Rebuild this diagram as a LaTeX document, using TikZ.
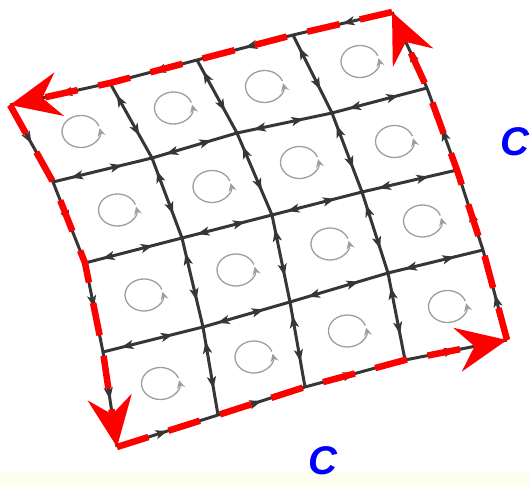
\documentclass[tikz,border=0pt]{standalone}
\usepackage{fontspec}
\setsansfont{Liberation Sans}
\usetikzlibrary{arrows.meta,calc,decorations.markings}
\definecolor{wire}{HTML}{363636}
\definecolor{swirl}{HTML}{9E9E9E}
\definecolor{rim}{HTML}{FF0000}
\definecolor{lab}{HTML}{0000FF}
\definecolor{band}{HTML}{FDFDF0}
\tikzset{
  >={Stealth[length=12pt,width=9pt,inset=3pt]},
  edge/.style={draw=wire,line width=3pt},
  twoway/.style={edge,postaction={decorate},decoration={markings,
    mark=at position 0.3 with {\arrow{<}},
    mark=at position 0.7 with {\arrow{>}}}},
  oneway/.style={edge,postaction={decorate},decoration={markings,
    mark=at position 0.5 with {\arrow{>}}}},
  redside/.style={draw=rim,line width=6.5pt,dash pattern=on 33pt off 21pt,
    -{Stealth[length=50pt,width=44pt,inset=17pt]}},
  swirlring/.style={draw=swirl,line width=1.3pt,-{Stealth[length=8pt,width=8pt]}},
  clab/.style={font=\fontsize{40}{40}\selectfont\sffamily\bfseries\itshape,text=lab,inner sep=0pt},
}

\begin{document}
\begin{tikzpicture}[x=1pt,y=-1pt]
\useasboundingbox (0,0) rectangle (530,486);
\fill[band] (0,472) rectangle (530,486);

% grid points, row by row from the top
\foreach \i/\j/\x/\y in {0/0/10/105, 0/1/110/83, 0/2/197/60, 0/3/293/35, 0/4/392/12,
  1/0/53/182, 1/1/152/158, 1/2/237/133, 1/3/332/113, 1/4/427/88,
  2/0/85/263, 2/1/182/238, 2/2/272/215, 2/3/362/192, 2/4/457/170,
  3/0/103/352, 3/1/203/327, 3/2/290/302, 3/3/388/273, 3/4/483/250,
  4/0/117/447, 4/1/218/415, 4/2/305/387, 4/3/405/360, 4/4/507/340}
  \coordinate (p\i\j) at (\x,\y);

% inner edges carry two opposite arrows
\foreach \i in {1,2,3}{\foreach \j [evaluate=\j as \k using int(\j+1)] in {0,...,3}{
  \draw[twoway] (p\i\j) -- (p\i\k);
  \draw[twoway] (p\j\i) -- (p\k\i);}}

% outer edges, counter-clockwise
\foreach \j [evaluate=\j as \k using int(\j+1)] in {0,...,3}{
  \draw[oneway] (p0\k) -- (p0\j);
  \draw[oneway] (p4\j) -- (p4\k);
  \draw[oneway] (p\j0) -- (p\k0);
  \draw[oneway] (p\k4) -- (p\j4);}

% boundary curve C
\draw[redside] (p04) -- (p03) -- (p02) -- (p01) -- (p00);
\draw[redside] (p00) -- (p10) -- (p20) -- (p30) -- (p40);
\draw[redside] (p40) -- (p41) -- (p42) -- (p43) -- (p44);
\draw[redside] (p44) -- (p34) -- (p24) -- (p14) -- (p04);

% small circulation in every cell
\foreach \i [evaluate=\i as \k using int(\i+1)] in {0,...,3}{
  \foreach \j [evaluate=\j as \l using int(\j+1)] in {0,...,3}{
    \coordinate (c\i\j) at ($(p\i\j)!0.5!(p\k\l)$);
    \draw[swirlring] ($(c\i\j)+(-20:19 and 16)$) arc[start angle=-20,end angle=-372,x radius=19,y radius=16];}}

\node[clab] (cright) at (515,142) {C};
\node[clab] (cbottom) at (323,461) {C};
\end{tikzpicture}
\end{document}
